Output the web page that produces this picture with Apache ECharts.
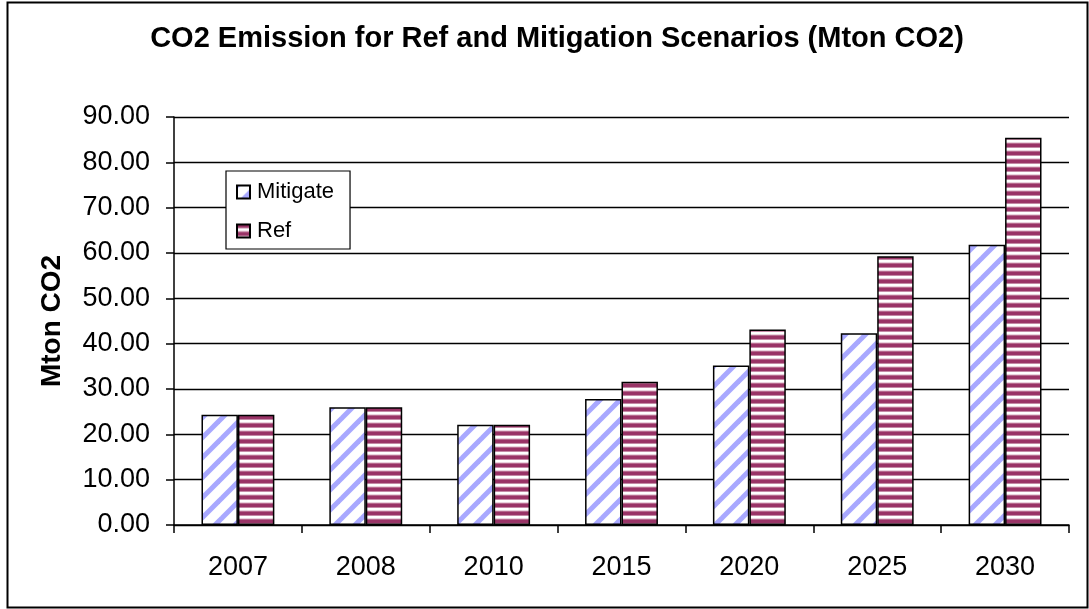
<!DOCTYPE html>
<html>
<head>
<meta charset="utf-8">
<title>CO2 Emission for Ref and Mitigation Scenarios</title>
<script src="https://cdn.jsdelivr.net/npm/echarts@6/dist/echarts.min.js"></script>
<style>
  html, body { margin: 0; padding: 0; background: #fff; }
  #chart { width: 1089px; height: 609px; }
</style>
</head>
<body>
<div id="chart"></div>
<script>
// Scenario years and emissions (Mton CO2)
const years = ['2007', '2008', '2010', '2015', '2020', '2025', '2030'];
const mitigate = [24.3, 26.0, 22.1, 27.8, 35.2, 42.3, 61.8];
const ref = [24.3, 26.0, 22.1, 31.6, 43.1, 59.3, 85.4];
const seriesNames = ['Mitigate', 'Ref'];

const FONT = "'Liberation Sans', Arial, Helvetica, sans-serif";

// Light-blue diagonal hatch for the mitigation bars
function diagonalPattern() {
  const s = 20;
  const c = document.createElement('canvas');
  c.width = s; c.height = s;
  const g = c.getContext('2d');
  g.fillStyle = '#ffffff';
  g.fillRect(0, 0, s, s);
  g.strokeStyle = '#a8a8ff';
  g.lineWidth = 5;
  g.lineCap = 'square';
  for (const off of [-s, 0, s]) {
    g.beginPath();
    g.moveTo(off, s);
    g.lineTo(off + s, 0);
    g.stroke();
  }
  return c;
}

// Plum horizontal stripes for the reference bars
function stripePattern() {
  const rows = ['#993366', '#993366', '#9a3568', '#c48aa6', '#ffffff', '#ffffff', '#ead3de', '#b66a8e'];
  const c = document.createElement('canvas');
  c.width = 4; c.height = rows.length;
  const g = c.getContext('2d');
  rows.forEach((col, i) => { g.fillStyle = col; g.fillRect(0, i, 4, 1); });
  return c;
}

const chart = echarts.init(document.getElementById('chart'), null, { renderer: 'canvas' });

chart.setOption({
  animation: false,
  backgroundColor: '#ffffff',
  textStyle: { fontFamily: FONT, color: '#000' },
  title: {
    text: 'CO2 Emission for Ref and Mitigation Scenarios (Mton CO2)',
    left: 552,
    top: 19,
    textAlign: 'center',
    textStyle: { fontFamily: FONT, fontSize: 29, fontWeight: 'bold', color: '#000' }
  },
  graphic: [{
    type: 'rect',
    shape: { x: 7.5, y: 2.5, width: 1080, height: 605 },
    style: { fill: 'none', stroke: '#000', lineWidth: 2 },
    silent: true,
    z: 0
  }],
  legend: {
    orient: 'vertical',
    left: 226,
    top: 171,
    padding: [10, 16, 7, 10],
    itemGap: 17,
    itemWidth: 13,
    itemHeight: 13,
    icon: 'rect',
    backgroundColor: '#ffffff',
    borderColor: '#000',
    borderWidth: 1.2,
    textStyle: { fontFamily: FONT, fontSize: 22, color: '#000', padding: [0, 0, 0, 2] },
    data: seriesNames,
    z: 10
  },
  grid: { left: 174, right: 20, top: 117, bottom: 84, containLabel: false },
  xAxis: {
    type: 'category',
    data: years,
    axisLine: { lineStyle: { color: '#000', width: 1.5 } },
    axisTick: { show: true, length: 8, lineStyle: { color: '#000', width: 1.5 } },
    axisLabel: { fontFamily: FONT, fontSize: 27, color: '#000', margin: 29 },
    splitLine: { show: false }
  },
  yAxis: {
    type: 'value',
    min: 0,
    max: 90,
    interval: 10,
    name: 'Mton CO2',
    nameLocation: 'middle',
    nameGap: 108,
    nameTextStyle: { fontFamily: FONT, fontSize: 28, fontWeight: 'bold', color: '#000' },
    axisLine: { show: true, lineStyle: { color: '#000', width: 1.5 } },
    axisTick: { show: true, length: 8, inside: false, lineStyle: { color: '#000', width: 1.5 } },
    axisLabel: {
      fontFamily: FONT, fontSize: 27, color: '#000', margin: 24,
      formatter: v => v.toFixed(2)
    },
    splitLine: { show: true, lineStyle: { color: '#000', width: 1.4 } }
  },
  series: [
    {
      name: seriesNames[0],
      type: 'bar',
      data: mitigate,
      barGap: '0%',
      barCategoryGap: '43%',
      itemStyle: {
        color: { image: diagonalPattern(), repeat: 'repeat' },
        borderColor: '#000',
        borderWidth: 1.5
      }
    },
    {
      name: seriesNames[1],
      type: 'bar',
      data: ref,
      barGap: '0%',
      barCategoryGap: '43%',
      itemStyle: {
        color: { image: stripePattern(), repeat: 'repeat' },
        borderColor: '#000',
        borderWidth: 1.5
      }
    }
  ]
});
</script>
</body>
</html>
